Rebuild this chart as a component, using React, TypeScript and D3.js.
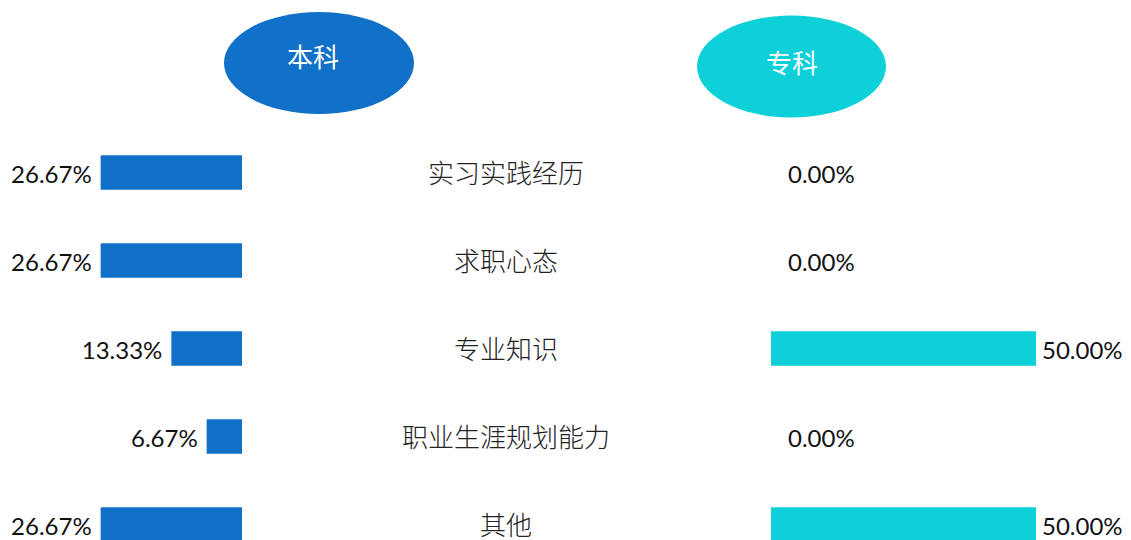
import React, { useEffect } from "react";
import * as d3 from "d3";

const categories = ["实习实践经历", "求职心态", "专业知识", "职业生涯规划能力", "其他"];
const benke = [26.67, 26.67, 13.33, 6.67, 26.67];
const zhuanke = [0, 0, 50, 0, 50];
const groupNames = ["本科", "专科"];
const colors = ["#1170C8", "#0DD0D9"];

const W = 1131;
const H = 540;

export default function App() {
  useEffect(() => {
    document.body.style.margin = "0";
  }, []);

  const xLeft = d3.scaleLinear().domain([0, 50]).range([242, 242 - 265]);
  const xRight = d3.scaleLinear().domain([0, 50]).range([771, 771 + 265]);
  const y = d3.scalePoint<string>().domain(categories).range([172.5, 172.5 + 4 * 88]);
  const barH = 34.5;
  const numFont = "Lato, 'Open Sans', sans-serif";
  const cjkFont = "'Noto Sans CJK SC', sans-serif";
  const fmt = (v: number) => v.toFixed(2) + "%";

  return (
    <svg width={W} height={H} style={{ display: "block", background: "#fff" }}>
      <ellipse cx={319} cy={63} rx={95} ry={51} fill={colors[0]} />
      <text x={313} y={55} textAnchor="middle" dominantBaseline="central" fill="#fff" fontSize={26} fontFamily={cjkFont}>
        {groupNames[0]}
      </text>
      <ellipse cx={791.5} cy={66.5} rx={94.5} ry={51} fill={colors[1]} />
      <text x={792} y={61} textAnchor="middle" dominantBaseline="central" fill="#fff" fontSize={26} fontFamily={cjkFont}>
        {groupNames[1]}
      </text>

      {categories.map((c, i) => {
        const cy = y(c)!;
        const lx = xLeft(benke[i]);
        const rx = xRight(zhuanke[i]);
        return (
          <g key={c}>
            <rect x={lx} y={cy - barH / 2} width={xLeft(0) - lx} height={barH} fill={colors[0]} />
            <text x={lx - 9} y={cy + 1} textAnchor="end" dominantBaseline="central" fontSize={24} fontFamily={numFont} fill="#111">
              {fmt(benke[i])}
            </text>
            <text x={506} y={cy - 1.5} textAnchor="middle" dominantBaseline="central" fontSize={26} fontFamily={cjkFont} fontWeight={300} fill="#222">
              {c}
            </text>
            {zhuanke[i] > 0 && (
              <rect x={xRight(0)} y={cy - barH / 2} width={rx - xRight(0)} height={barH} fill={colors[1]} />
            )}
            <text x={rx + (zhuanke[i] > 0 ? 6 : 17)} y={cy + 1} textAnchor="start" dominantBaseline="central" fontSize={24} fontFamily={numFont} fill="#111">
              {fmt(zhuanke[i])}
            </text>
          </g>
        );
      })}
    </svg>
  );
}
